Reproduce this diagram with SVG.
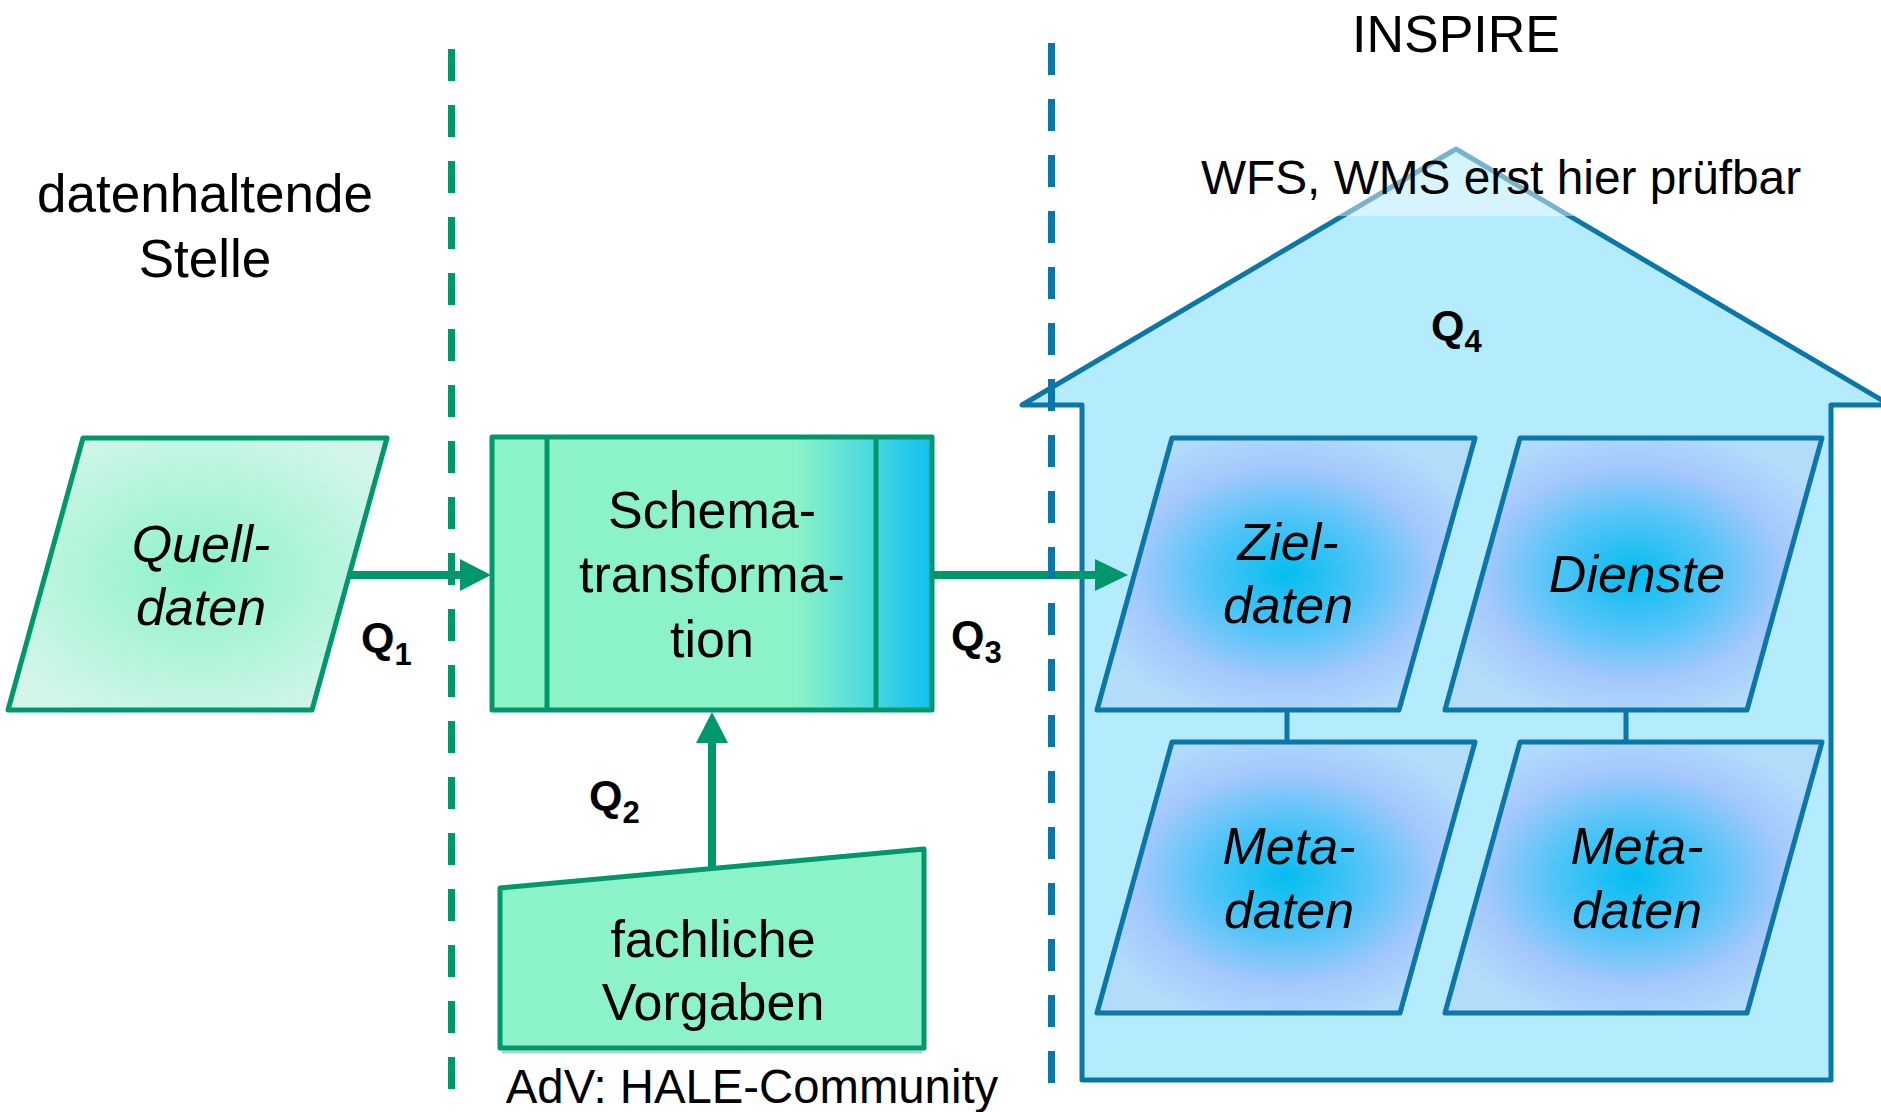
<svg xmlns="http://www.w3.org/2000/svg" width="1881" height="1112" viewBox="0 0 1881 1112">
  <defs>
    <radialGradient id="gQuell" cx="0.5" cy="0.5" r="0.6">
      <stop offset="0" stop-color="#8cf2c8"/>
      <stop offset="1" stop-color="#d4f6ea"/>
    </radialGradient>
    <radialGradient id="gBlue" cx="0.5" cy="0.5" r="0.55">
      <stop offset="0" stop-color="#04bdf0"/>
      <stop offset="0.4" stop-color="#55c4f8"/>
      <stop offset="0.72" stop-color="#a4c8fc"/>
      <stop offset="1" stop-color="#b2dcfa"/>
    </radialGradient>
    <linearGradient id="gSchema" x1="0" y1="0" x2="1" y2="0">
      <stop offset="0" stop-color="#8cf2c8"/>
      <stop offset="0.69" stop-color="#8cf2c8"/>
      <stop offset="0.8" stop-color="#62e2d6"/>
      <stop offset="0.875" stop-color="#44d6e0"/>
      <stop offset="1" stop-color="#10c0f0"/>
    </linearGradient>
    <style>
      .txt { font-family: "Liberation Sans", Arial, sans-serif; fill: #000; }
      .big { font-size: 52px; text-anchor: middle; }
      .label { font-size: 53px; text-anchor: middle; }
      .it { font-style: italic; }
      .q { font-size: 43px; font-weight: bold; }
      .sub { font-size: 31px; }
      .gStroke { stroke: #00976d; stroke-width: 5; stroke-linejoin: round; }
      .bStroke { stroke: #0b77a8; stroke-width: 5; stroke-linejoin: round; }
      .conn { stroke: #00976d; stroke-width: 8; fill: none; }
      .head { fill: #00976d; }
      .dashG { stroke: #00976d; stroke-width: 7; stroke-dasharray: 32 24; fill: none; }
      .dashB { stroke: #0b77a8; stroke-width: 7; stroke-dasharray: 32 24; fill: none; }
    </style>
  </defs>

  <rect x="0" y="0" width="1881" height="1112" fill="#ffffff"/>

  <!-- left label -->
  <g id="datenhaltende-stelle">
    <text class="txt label" x="205" y="212">datenhaltende</text>
    <text class="txt label" x="205" y="277">Stelle</text>
  </g>

  <!-- INSPIRE house -->
  <g id="inspire-house">
    <polygon class="bStroke" fill="#b4ecfd" points="1456,149 1890,405 1831,405 1831,1080 1082,1080 1082,405 1022,405"/>
    <rect x="1190" y="140" width="630" height="76" fill="#ffffff" fill-opacity="0.45"/>
    <text class="txt" x="1456" y="52" font-size="52" text-anchor="middle">INSPIRE</text>
    <text class="txt" x="1501" y="194" font-size="47.8" text-anchor="middle">WFS, WMS erst hier prüfbar</text>
    <text class="txt q" x="1431" y="340">Q<tspan class="sub" dy="12">4</tspan></text>
  </g>

  <g id="quelldaten">
    <polygon class="gStroke" fill="url(#gQuell)" points="83,438 387,438 312,710 8,710"/>
    <text class="txt big it" x="201" y="562">Quell-</text>
    <text class="txt big it" x="201" y="625">daten</text>
  </g>

  <g id="schematransformation">
    <rect class="gStroke" fill="url(#gSchema)" x="492" y="437" width="440" height="273"/>
    <line class="gStroke" x1="547" y1="437" x2="547" y2="710"/>
    <line class="gStroke" x1="876" y1="437" x2="876" y2="710"/>
    <text class="txt big" x="712" y="528">Schema-</text>
    <text class="txt big" x="712" y="592">transforma-</text>
    <text class="txt big" x="712" y="657">tion</text>
  </g>

  <g id="fachliche-vorgaben">
    <line x1="502" y1="1052" x2="922" y2="1052" stroke="#9fdcc4" stroke-width="3"/>
    <polygon class="gStroke" fill="#8cf2c8" points="500,888 924,849 924,1048 500,1048"/>
    <text class="txt big" x="713" y="957">fachliche</text>
    <text class="txt big" x="713" y="1020">Vorgaben</text>
    <text class="txt" x="752" y="1103" font-size="47.3" text-anchor="middle">AdV: HALE-Community</text>
  </g>

  <g id="zieldaten">
    <polygon class="bStroke" fill="url(#gBlue)" points="1172,438 1475,438 1399,710 1097,710"/>
    <text class="txt big it" x="1288" y="560">Ziel-</text>
    <text class="txt big it" x="1288" y="623">daten</text>
  </g>

  <g id="dienste">
    <polygon class="bStroke" fill="url(#gBlue)" points="1520,438 1822,438 1747,710 1445,710"/>
    <text class="txt big it" x="1637" y="592">Dienste</text>
  </g>

  <g id="metadaten-1">
    <polygon class="bStroke" fill="url(#gBlue)" points="1172,742 1475,742 1400,1013 1097,1013"/>
    <text class="txt big it" x="1289" y="864">Meta-</text>
    <text class="txt big it" x="1289" y="928">daten</text>
  </g>

  <g id="metadaten-2">
    <polygon class="bStroke" fill="url(#gBlue)" points="1520,742 1822,742 1747,1013 1445,1013"/>
    <text class="txt big it" x="1637" y="864">Meta-</text>
    <text class="txt big it" x="1637" y="928">daten</text>
  </g>

  <g id="connectors">
    <line class="conn" x1="349" y1="575" x2="462" y2="575"/>
    <polygon class="head" points="460,559 491,575 460,591"/>
    <text class="txt q" x="361" y="652">Q<tspan class="sub" dy="13">1</tspan></text>

    <line class="conn" x1="932" y1="575" x2="1097" y2="575"/>
    <polygon class="head" points="1095,559 1128,575 1095,591"/>
    <text class="txt q" x="951" y="650">Q<tspan class="sub" dy="13">3</tspan></text>

    <line class="conn" x1="712" y1="869" x2="712" y2="741"/>
    <polygon class="head" points="696,743 712,712 728,743"/>
    <text class="txt q" x="589" y="810">Q<tspan class="sub" dy="13">2</tspan></text>

    <line class="bStroke" x1="1287" y1="710" x2="1287" y2="742"/>
    <line class="bStroke" x1="1626" y1="710" x2="1626" y2="742"/>
  </g>

  <g id="separators">
    <line class="dashG" x1="451.5" y1="49" x2="451.5" y2="1089"/>
    <line class="dashB" x1="1051.5" y1="43" x2="1051.5" y2="1083"/>
  </g>
</svg>
